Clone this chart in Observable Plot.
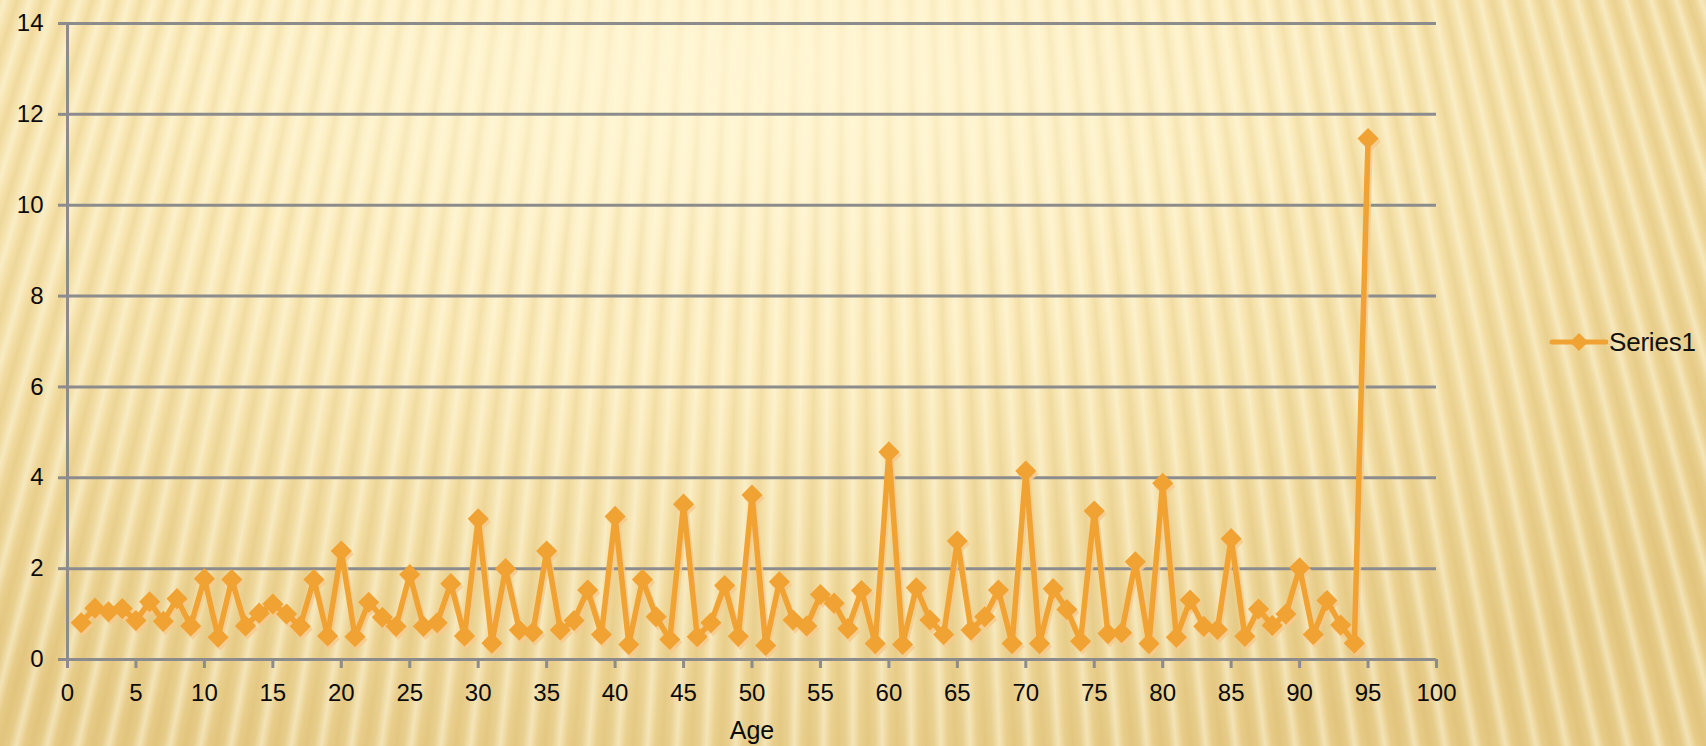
<!DOCTYPE html>
<html>
<head>
<meta charset="utf-8">
<script src="https://cdn.jsdelivr.net/npm/d3@7"></script>
<script src="https://cdn.jsdelivr.net/npm/@observablehq/plot@0.6"></script>
<style>
  html, body { margin: 0; padding: 0; }
  #wrap {
    position: relative; width: 1706px; height: 746px; overflow: hidden;
    background:
      radial-gradient(ellipse 40% 30% at 45% 8%, rgba(255,246,212,0.75) 0%, rgba(255,246,212,0) 100%),
      repeating-conic-gradient(from 180deg at 50% -350%,
        rgba(255,250,225,0.5) 0deg, rgba(255,250,225,0.0) 0.125deg,
        rgba(200,158,60,0.15) 0.25deg, rgba(255,250,225,0.0) 0.375deg,
        rgba(255,250,225,0.5) 0.5deg),
      radial-gradient(ellipse 75% 95% at 42% 12%, #fff4cf 0%, #fbebbb 40%, #f1dba0 70%, #e6cb88 100%);
  }
  #chart { position: absolute; left: 0; top: 0; }
  #legend {
    position: absolute; left: 1548px; top: 326px; height: 32px;
    display: flex; align-items: center;
    font-family: "Liberation Sans", Arial, sans-serif; font-size: 26px; color: #111;
    letter-spacing: -0.2px;
  }
</style>
</head>
<body>
<div id="wrap">
  <div id="chart"></div>
  <div id="legend">
    <svg width="60" height="32" style="margin-right:1px">
      <line x1="4" y1="16" x2="58" y2="16" stroke="#f0a233" stroke-width="5" stroke-linecap="round"/>
      <path d="M31,7 L40,16 L31,25 L22,16 Z" fill="#f0a233"/>
    </svg>
    <span>Series1</span>
  </div>
</div>
<script>
const ages = [1,2,3,4,5,6,7,8,9,10,11,12,13,14,15,16,17,18,19,20,
  21,22,23,24,25,26,27,28,29,30,31,32,33,34,35,36,37,38,39,40,
  41,42,43,44,45,46,47,48,49,50,51,52,53,54,55,56,57,58,59,60,
  61,62,63,64,65,66,67,68,69,70,71,72,73,74,75,76,77,78,79,80,
  81,82,83,84,85,86,87,88,89,90,91,92,93,94,95];
const series1 = [0.81,1.13,1.05,1.12,0.86,1.27,0.84,1.34,0.74,1.78,
  0.49,1.76,0.74,1.02,1.22,1.00,0.73,1.76,0.52,2.39,
  0.50,1.26,0.93,0.73,1.87,0.73,0.81,1.67,0.52,3.10,
  0.36,2.00,0.65,0.60,2.39,0.65,0.86,1.53,0.55,3.15,
  0.33,1.76,0.94,0.44,3.42,0.50,0.81,1.63,0.51,3.62,
  0.31,1.71,0.87,0.74,1.43,1.24,0.68,1.52,0.35,4.57,
  0.33,1.58,0.87,0.55,2.61,0.65,0.94,1.53,0.35,4.15,
  0.35,1.56,1.10,0.40,3.27,0.57,0.59,2.15,0.35,3.88,
  0.49,1.31,0.73,0.66,2.66,0.51,1.11,0.75,1.00,2.02,
  0.55,1.30,0.76,0.36,11.47];
const xTicks = [0,5,10,15,20,25,30,35,40,45,50,55,60,65,70,75,80,85,90,95,100];
const yTicks = [0,2,4,6,8,10,12,14];
const xLabel = "Age";

const data = ages.map((a, i) => ({age: a, value: series1[i]}));
const lineColor = "#f0a233";
const shadowColor = "#f8c98c";
const gridColor = "#8c8c8c";
const textColor = "#0a0a0a";

const plot = Plot.plot({
  width: 1706,
  height: 746,
  marginLeft: 67,
  marginRight: 270,
  marginTop: 23,
  marginBottom: 87,
  style: {background: "transparent", fontFamily: "'Liberation Sans', Arial, sans-serif", fontSize: "24px", color: textColor, overflow: "visible"},
  x: {domain: [0, 100]},
  y: {domain: [0, 14]},
  marks: [
    Plot.ruleY(yTicks, {stroke: gridColor, strokeWidth: 3}),
    Plot.ruleX([0], {stroke: gridColor, strokeWidth: 3}),
    Plot.axisX({ticks: xTicks, tickSize: 9, tickPadding: 15, stroke: gridColor, strokeWidth: 3, fill: textColor, fontSize: 24, label: null}),
    Plot.axisY({ticks: yTicks, tickSize: 9, tickPadding: 15, stroke: gridColor, strokeWidth: 3, fill: textColor, fontSize: 24, label: null}),
    Plot.line(data, {x: "age", y: "value", stroke: shadowColor, strokeWidth: 5.5, dx: 2, dy: 3, strokeOpacity: 0.8}),
    Plot.dot(data, {x: "age", y: "value", symbol: "diamond2", r: 9.5, fill: shadowColor, dx: 2, dy: 3, fillOpacity: 0.85}),
    Plot.line(data, {x: "age", y: "value", stroke: lineColor, strokeWidth: 5.5}),
    Plot.dot(data, {x: "age", y: "value", symbol: "diamond2", r: 9.5, fill: lineColor}),
    Plot.text([xLabel], {frameAnchor: "bottom", dy: 71, fontSize: 25, fill: textColor, lineAnchor: "middle"})
  ]
});
document.getElementById("chart").appendChild(plot);
</script>
</body>
</html>
